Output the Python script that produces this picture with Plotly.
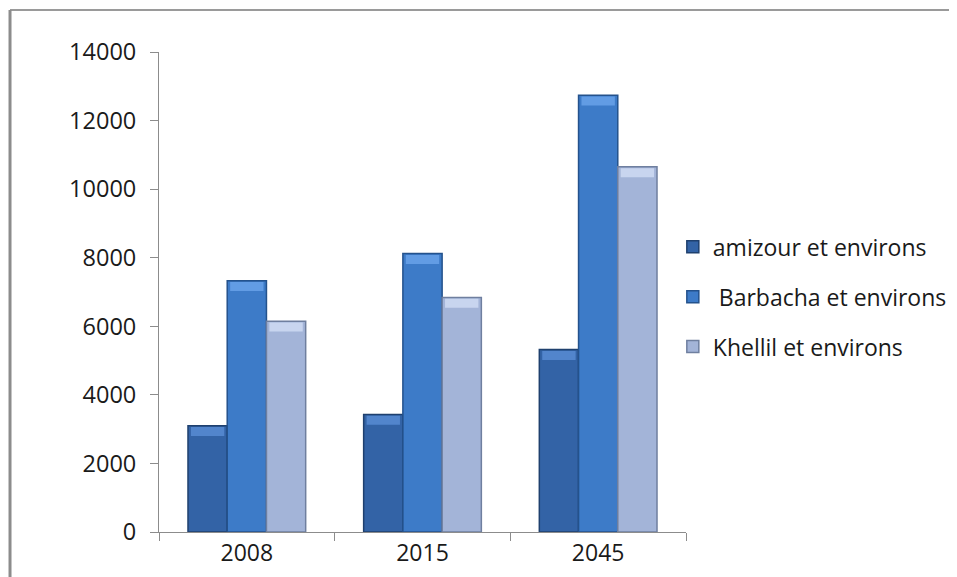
import plotly.graph_objects as go

years = ["2008", "2015", "2045"]
series_names = ["amizour et environs", " Barbacha et environs", "Khellil et environs"]
amizour = [3100, 3430, 5320]
barbacha = [7330, 8120, 12740]
khellil = [6150, 6840, 10650]
y_ticks = [0, 2000, 4000, 6000, 8000, 10000, 12000, 14000]
y_tick_text = [str(v) for v in y_ticks]

colors = ["#3363a6", "#3d7bc8", "#a3b4d8"]
edge_colors = ["#1f406e", "#24528c", "#6f7f9f"]
bevel_colors = ["#5285cc", "#629ce4", "#c8d5ef"]
BEVEL = 260  # height of the lighter top bevel band, in data units

FONT = "'Open Sans', Lato, sans-serif"

fig = go.Figure()
for i, (name, vals, c, ec) in enumerate(zip(series_names, [amizour, barbacha, khellil], colors, edge_colors)):
    fig.add_trace(go.Bar(
        x=years, y=vals, name=name, legendgroup=name, offsetgroup=str(i),
        marker=dict(color=c, line=dict(color=ec, width=1.5)),
    ))
for i, (name, vals, bc) in enumerate(zip(series_names, [amizour, barbacha, khellil], bevel_colors)):
    fig.add_trace(go.Bar(
        x=years, y=[BEVEL] * len(vals), base=[v - BEVEL - 40 for v in vals],
        name=name, legendgroup=name, offsetgroup=str(i), showlegend=False,
        hoverinfo="skip",
        marker=dict(color=bc, line=dict(color="rgba(0,0,0,0)", width=0)),
        width=0.19,
    ))

# page body has an 8px margin; plot area placed at x 159..686, y 52..532 of the window
fig.update_layout(
    width=949, height=569,
    margin=dict(l=151, r=271, t=44, b=45, autoexpand=False),
    paper_bgcolor="white", plot_bgcolor="white",
    barmode="group", bargap=0.33, bargroupgap=0,
    font=dict(family=FONT, size=22, color="#1a1a1a"),
    showlegend=True,
    legend=dict(
        x=0.975, y=0.49, xanchor="left", yanchor="middle",
        font=dict(family=FONT, size=23, color="#1a1a1a"),
        tracegroupgap=17, traceorder="grouped",
        bgcolor="rgba(0,0,0,0)", itemwidth=30,
    ),
    xaxis=dict(
        type="category", showgrid=False, showline=True, linecolor="#8c8c8c", linewidth=1,
        ticks="outside", tickson="boundaries", ticklen=8, tickcolor="#8c8c8c",
        tickfont=dict(family=FONT, size=23, color="#1a1a1a"),
    ),
    yaxis=dict(
        range=[0, 14000], tickvals=y_ticks, ticktext=y_tick_text,
        showgrid=False, zeroline=False,
        showline=True, linecolor="#8c8c8c", linewidth=1,
        ticks="outside", ticklen=8, tickcolor="#8c8c8c",
        ticklabelstandoff=9,
        tickfont=dict(family=FONT, size=23.5, color="#1a1a1a"),
    ),
    shapes=[
        dict(type="line", xref="paper", yref="paper", x0=-0.2827, x1=1.52, y0=1.0875, y1=1.0875,
             line=dict(color="#9a9a9a", width=2)),
        dict(type="line", xref="paper", yref="paper", x0=-0.2827, x1=-0.2827, y0=1.0875, y1=-0.2,
             line=dict(color="#8c8c8c", width=3)),
    ],
)

fig.write_html("out.html")
